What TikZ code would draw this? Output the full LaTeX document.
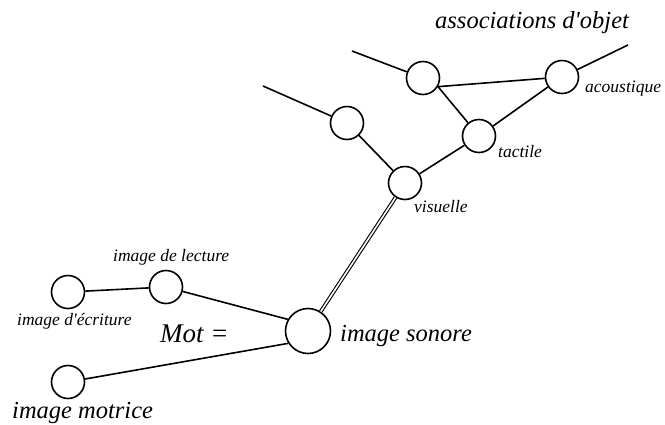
\documentclass[tikz,border=0pt]{standalone}
\usepackage{fontspec}
\newfontfamily\police{Liberation Serif}
\usetikzlibrary{positioning}

\begin{document}
\begin{tikzpicture}[x=1pt,y=-1pt,
        rond/.style={draw,circle,line width=1.6pt,minimum size=33pt,inner sep=0pt},
        grandrond/.style={rond,minimum size=45pt},
        trait/.style={line width=1.6pt},
        petit/.style={font=\police\fontsize{17.5}{20}\selectfont\itshape,inner sep=0pt,anchor=base west},
        grand/.style={petit,font=\police\fontsize{24.5}{28}\selectfont\itshape},
    ]
    \useasboundingbox (0,0) rectangle (665,424);

    % les images du mot
    \node[grandrond] (sonore) at (308,331) {};
    \node[rond] (lecture) at (166,287) {};
    \node[rond] (ecriture) at (68,292) {};
    \node[rond] (motrice) at (68,382) {};

    % les associations d'objet
    \node[rond] (visuelle) at (405,183) {};
    \node[rond] (tactile) at (479,136) {};
    \node[rond] (acoustique) at (562,77) {};
    \node[rond] (gauche) at (347,123) {};
    \node[rond] (haut) at (423,78) {};

    \coordinate (bout-gauche) at (263,86);
    \coordinate (bout-haut) at (352,51);
    \coordinate (bout-acoustique) at (628,45);

    % textes
    \node[grand] (assoc) at (435,28) {associations d'objet};
    \node[petit] (lbl-acoustique) at (585,92) {acoustique};
    \node[petit] (lbl-tactile) at (498,157) {tactile};
    \node[petit] (lbl-visuelle) at (414,212) {visuelle};
    \node[petit] (lbl-lecture) at (113,261) {image de lecture};
    \node[petit] (lbl-ecriture) at (17,325) {image d'écriture};
    \node[grand,font=\police\fontsize{27}{30}\selectfont\itshape] (mot) at (160,342) {Mot =};
    \node[grand] (lbl-sonore) at (340,341) {image sonore};
    \node[grand] (lbl-motrice) at (12,418) {image motrice};

    % liaisons
    \draw[trait] (ecriture) -- (lecture);
    \draw[trait] (lecture) -- (sonore.150);
    \draw[trait] (motrice) -- (sonore.212);
    \draw[double,line width=1.1pt,double distance=1.6pt] (sonore) -- (visuelle);
    \draw[trait] (visuelle) -- (gauche);
    \draw[trait] (gauche) -- (bout-gauche);
    \draw[trait] (visuelle) -- (tactile);
    \draw[trait] (tactile) -- (haut.-30);
    \draw[trait] (haut.-30) -- (acoustique);
    \draw[trait] (tactile) -- (acoustique);
    \draw[trait] (haut) -- (bout-haut);
    \draw[trait] (acoustique) -- (bout-acoustique);
\end{tikzpicture}
\end{document}
